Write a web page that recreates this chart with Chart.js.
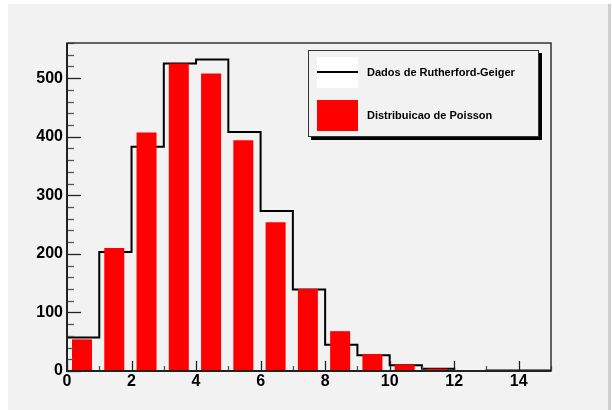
<!DOCTYPE html>
<html><head><meta charset="utf-8">
<script src="https://cdn.jsdelivr.net/npm/chart.js@4/dist/chart.umd.min.js"></script>
<style>html,body{margin:0;padding:0;background:#fff;overflow:hidden}#c{display:block}</style>
</head><body>
<canvas id="c" width="612" height="410"></canvas>
<script>
// ---- data ----
const bins = [0,1,2,3,4,5,6,7,8,9,10,11,12,13,14];
const rutherford = [57,203,383,525,532,408,273,139,45,27,10,4,0,1,1];
const poisson = [54,210,407,525,508,394,254,140,68,29,11,4,1.3,0.4,0.1];
const xTickLabels = [0,2,4,6,8,10,12,14];
const yTickLabels = [0,100,200,300,400,500];
const seriesLabels = ['Dados de Rutherford-Geiger','Distribuicao de Poisson'];

const FONT = '"Liberation Sans", Arial, Helvetica, sans-serif';
const BAR_OFFSET = 0.465;

const stepData = bins.map((b,i)=>({x:b, y:rutherford[i]}));
stepData.push({x:bins[bins.length-1]+1, y:rutherford[rutherford.length-1]});
const barData = bins.map((b,i)=>({x:b+BAR_OFFSET, y:poisson[i]}));

const bgPlugin = {
  id:'bg',
  beforeDraw(chart){
    const c = chart.ctx;
    c.save();
    c.fillStyle='#ffffff'; c.fillRect(0,0,chart.width,chart.height);
    c.fillStyle='#f2f2f2'; c.fillRect(8,4,600,chart.height-4);
    c.fillStyle='#cfcfcf'; c.fillRect(608,4,3,chart.height-4);
    c.restore();
  }
};

const framePlugin = {
  id:'frame',
  afterDatasetsDraw(chart){
    const c = chart.ctx, a = chart.chartArea;
    const xs = chart.scales.x, ys = chart.scales.y;
    c.save();
    // y ticks
    c.lineWidth = 1.3;
    for(let v=0; v<=ys.max; v+=20){
      const py = Math.round(ys.getPixelForValue(v))+0.5;
      const major = v%100===0;
      c.strokeStyle = major ? '#222' : '#555';
      c.beginPath(); c.moveTo(a.left, py); c.lineTo(a.left+(major?14:7), py); c.stroke();
    }
    // x ticks
    for(let v=0; v<=xs.max; v+=1){
      const px = Math.round(xs.getPixelForValue(v))+0.5;
      const major = v%2===0;
      c.strokeStyle = major ? '#222' : '#555';
      c.beginPath(); c.moveTo(px, a.bottom); c.lineTo(px, a.bottom-(major?10:5)); c.stroke();
    }
    // frame
    c.strokeStyle='#333'; c.lineWidth=1.5;
    c.strokeRect(a.left, a.top, a.right-a.left, a.bottom-a.top);
    c.strokeStyle='#222'; c.lineWidth=2;
    c.beginPath(); c.moveTo(a.left, a.top); c.lineTo(a.left, a.bottom); c.lineTo(a.right, a.bottom); c.stroke();

    // legend
    const lx = 308, ly = 50, lw = 231, lh = 87;
    c.fillStyle='#000'; c.fillRect(lx+3, ly+3, lw, lh);
    c.fillStyle='#f2f2f2'; c.fillRect(lx, ly, lw, lh);
    c.strokeStyle='#333'; c.lineWidth=1; c.strokeRect(lx+0.5, ly+0.5, lw-1, lh-1);
    c.fillStyle='#ffffff'; c.fillRect(317, 57, 41, 31);
    c.strokeStyle='#000'; c.lineWidth=2;
    c.beginPath(); c.moveTo(317, 72); c.lineTo(358, 72); c.stroke();
    c.fillStyle='#ff0000'; c.fillRect(317, 100, 41, 31);
    c.fillStyle='#000'; c.font='bold 11px '+FONT; c.textBaseline='middle'; c.textAlign='left';
    c.fillText(seriesLabels[0], 367, 72.5);
    c.fillText(seriesLabels[1], 367, 115.5);
    c.restore();
  }
};

new Chart(document.getElementById('c'), {
  data:{
    datasets:[
      {type:'bar', label:seriesLabels[1], data:barData, backgroundColor:'#ff0000', borderWidth:0,
       barPercentage:0.62, categoryPercentage:1, order:0},
      {type:'line', label:seriesLabels[0], data:stepData, stepped:true, borderColor:'#000', borderWidth:2,
       pointRadius:0, fill:false, order:1, clip:4}
    ]
  },
  options:{
    responsive:false, animation:false, devicePixelRatio:1,
    layout:{padding:{top:43, right:61, left:0, bottom:0}},
    plugins:{legend:{display:false}, tooltip:{enabled:false}},
    scales:{
      x:{type:'linear', min:0, max:15, offset:false,
         grid:{display:false, drawTicks:false}, border:{display:false},
         afterBuildTicks(s){ s.ticks = xTickLabels.map(v=>({value:v})); },
         afterFit(s){ s.height = 39; },
         ticks:{autoSkip:false, maxRotation:0, padding:1, color:'#000', font:{family:FONT, size:16, weight:'bold'}}},
      y:{type:'linear', min:0, max:560,
         grid:{display:false, drawTicks:false}, border:{display:false},
         afterBuildTicks(s){ s.ticks = yTickLabels.map(v=>({value:v})); },
         afterFit(s){ s.width = 67; },
         ticks:{padding:4, color:'#000', font:{family:FONT, size:16, weight:'bold'}}}
    }
  },
  plugins:[bgPlugin, framePlugin]
});
</script>
</body></html>
